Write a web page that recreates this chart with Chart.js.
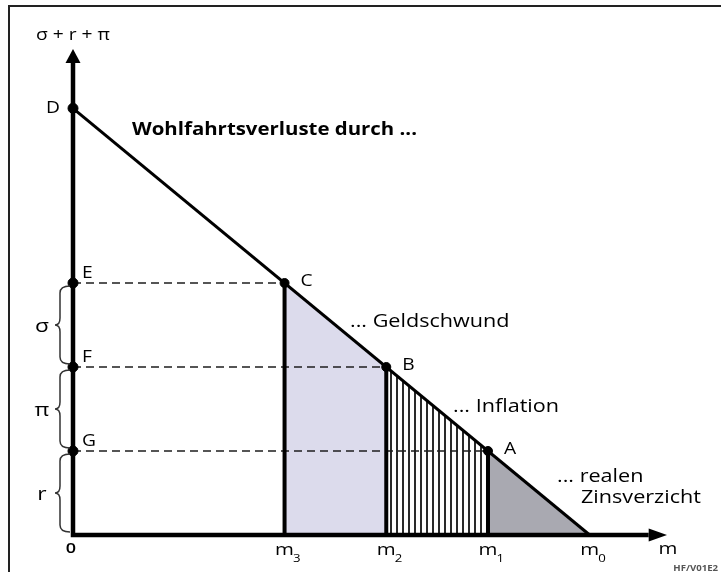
<!DOCTYPE html>
<html>
<head>
<meta charset="utf-8">
<script src="https://cdn.jsdelivr.net/npm/chart.js@4"></script>
<style>
  html, body { margin: 0; padding: 0; background: #fff; }
  canvas { display: block; }
</style>
</head>
<body>
<canvas id="c" width="721" height="572"></canvas>
<script>
// ---- data ----
const dValue = 5.08;                       // D: intercept of the loss line on the vertical axis
const levelLabels = ['G', 'F', 'E'];       // levels on vertical axis
const levelValues = [1, 2, 3];
const curveLabels = ['A', 'B', 'C'];       // points on the line at those levels
const qtyValues = [4.08, 3.08, 2.08];      // m1, m2, m3
const qtySubs = ['1', '2', '3'];
const m0Value = 5.08;                      // m0: intercept on horizontal axis
const componentLabels = ['r', 'π', 'σ'];   // braces between 0-G, G-F, F-E
const lossTexts = [['... realen', 'Zinsverzicht'], ['... Inflation'], ['... Geldschwund']];
const titleText = 'Wohlfahrtsverluste durch ...';
const yAxisLabel = 'σ + r + π';
const xAxisLabel = 'm';
const originLabel = '0';
const creditText = 'HF/V01E2';

// ---- scale extents ----
const xMax = 5.84, yMax = 5.786;
const xAxisEnd = 5.66, yAxisTop = 5.62;

const FONT = '"Open Sans", "Noto Sans", sans-serif';
const STRETCH = 1.2;

const canvas = document.getElementById('c');
const ctx = canvas.getContext('2d');

// hatch pattern
const pc = document.createElement('canvas');
pc.width = 6; pc.height = 4;
const pctx = pc.getContext('2d');
pctx.fillStyle = '#ffffff'; pctx.fillRect(0, 0, 6, 4);
pctx.fillStyle = '#2a2a2a'; pctx.fillRect(0, 0, 2, 4);
const hatch = ctx.createPattern(pc, 'repeat');

// fills: C->B, B->A, A->m0
const fillSegs = [
  { from: {x: qtyValues[2], y: levelValues[2]}, to: {x: qtyValues[1], y: levelValues[1]}, color: '#dcdbec' },
  { from: {x: qtyValues[1], y: levelValues[1]}, to: {x: qtyValues[0], y: levelValues[0]}, color: hatch },
  { from: {x: qtyValues[0], y: levelValues[0]}, to: {x: m0Value, y: 0}, color: '#a9a9b1' }
];

const datasets = [];
fillSegs.forEach(s => datasets.push({
  data: [s.from, s.to], showLine: true, fill: 'origin', backgroundColor: s.color,
  borderWidth: 0, borderColor: 'rgba(0,0,0,0)', pointRadius: 0, order: 10, clip: false
}));
levelValues.forEach((v, i) => datasets.push({
  data: [{x: 0, y: v}, {x: qtyValues[i], y: v}], showLine: true, borderColor: '#1e1e1e',
  borderWidth: 1.6, borderDash: [8, 5], pointRadius: 0, order: 6, clip: false
}));
levelValues.forEach((v, i) => datasets.push({
  data: [{x: qtyValues[i], y: v}, {x: qtyValues[i], y: 0}], showLine: true, borderColor: '#000',
  borderWidth: 4, pointRadius: 0, order: 5, clip: false
}));
datasets.push({
  data: [{x: 0, y: yAxisTop}, {x: 0, y: 0}, {x: xAxisEnd, y: 0}], showLine: true,
  borderColor: '#000', borderWidth: 4.5, borderJoinStyle: 'miter', pointRadius: 0, order: 4, clip: false
});
datasets.push({
  data: [{x: 0, y: dValue}, {x: m0Value, y: 0}], showLine: true, borderColor: '#000',
  borderWidth: 3, pointRadius: 0, order: 3, clip: false
});
datasets.push({
  data: [{x: 0, y: dValue}].concat(levelValues.map(v => ({x: 0, y: v}))),
  showLine: false, pointRadius: 5, backgroundColor: '#000', borderColor: '#000', order: 1, clip: false
});
datasets.push({
  data: levelValues.map((v, i) => ({x: qtyValues[i], y: v})),
  showLine: false, pointRadius: 4.5, backgroundColor: '#000', borderColor: '#000', order: 1, clip: false
});

function txt(c, s, x, y, size, opts = {}) {
  c.save();
  c.font = (opts.weight || '500') + ' ' + size + 'px ' + FONT;
  c.fillStyle = opts.color || '#000';
  c.textBaseline = 'alphabetic';
  const w = c.measureText(s).width * STRETCH;
  let x0 = x;
  if (opts.align === 'center') x0 = x - w / 2;
  else if (opts.align === 'right') x0 = x - w;
  c.translate(x0, y);
  c.scale(STRETCH, 1);
  c.textAlign = 'left';
  c.fillText(s, 0, 0);
  c.restore();
  return w;
}

function brace(c, xr, y1, y2) {
  const xl = xr - 10, xt = xr - 15, r = 7, ym = (y1 + y2) / 2;
  c.beginPath();
  c.moveTo(xr, y1);
  c.quadraticCurveTo(xl, y1, xl, y1 + r);
  c.lineTo(xl, ym - r);
  c.quadraticCurveTo(xl, ym, xt, ym);
  c.quadraticCurveTo(xl, ym, xl, ym + r);
  c.lineTo(xl, y2 - r);
  c.quadraticCurveTo(xl, y2, xr, y2);
  c.stroke();
}

const decor = {
  id: 'decor',
  afterDraw(chart) {
    const c = chart.ctx, xs = chart.scales.x, ys = chart.scales.y, a = chart.chartArea;
    const X = v => xs.getPixelForValue(v), Y = v => ys.getPixelForValue(v);
    const x0 = X(0), y0 = Y(0);
    c.save();
    // frame
    c.strokeStyle = '#222'; c.lineWidth = 2;
    c.beginPath(); c.moveTo(9, 572); c.lineTo(9, 6); c.lineTo(721, 6); c.stroke();
    // arrowheads
    c.fillStyle = '#000';
    c.beginPath(); c.moveTo(x0, a.top); c.lineTo(x0 - 7.5, Y(yAxisTop)); c.lineTo(x0 + 7.5, Y(yAxisTop)); c.closePath(); c.fill();
    c.beginPath(); c.moveTo(a.right, y0); c.lineTo(X(xAxisEnd), y0 - 6.5); c.lineTo(X(xAxisEnd), y0 + 6.5); c.closePath(); c.fill();
    // braces
    c.strokeStyle = '#333'; c.lineWidth = 1.5;
    const bounds = [0].concat(levelValues);
    for (let i = 0; i < componentLabels.length; i++) {
      const yt = Y(bounds[i + 1]) + 3, yb = Y(bounds[i]) - 3;
      brace(c, x0 - 3, yt, yb);
      txt(c, componentLabels[i], 42, (yt + yb) / 2 + 7, 19, {align: 'center'});
    }
    c.restore();

    // axis labels
    txt(c, yAxisLabel, x0, 40, 16, {align: 'center'});
    txt(c, 'D', x0 - 13, Y(dValue) + 5, 16, {align: 'right'});
    txt(c, originLabel, x0 - 2, y0 + 18, 15, {align: 'center', weight: '600'});
    txt(c, xAxisLabel, a.right + 1, y0 + 19, 17, {align: 'center'});
    // level labels
    levelValues.forEach((v, i) => txt(c, levelLabels[i], x0 + 9, Y(v) - 5, 16));
    // curve points
    levelValues.forEach((v, i) => txt(c, curveLabels[i], X(qtyValues[i]) + 16, Y(v) + 3, 16));
    // quantity labels
    const qty = qtyValues.concat([m0Value]), subs = qtySubs.concat(['0']);
    qty.forEach((q, i) => {
      const w = txt(c, 'm', X(q), y0 + 20, 17, {align: 'center'});
      txt(c, subs[i], X(q) + w / 2 - 1, y0 + 27, 11);
    });
    // title and loss labels
    txt(c, titleText, 132, 135, 17, {weight: 'bold'});
    txt(c, lossTexts[2][0], 350, 327, 18);
    txt(c, lossTexts[1][0], 453, 412, 18);
    txt(c, lossTexts[0][0], 557, 482, 18);
    txt(c, lossTexts[0][1], 581, 503, 18);
    txt(c, creditText, 718, 571, 8, {align: 'right', weight: 'bold', color: '#555'});
  }
};

new Chart(ctx, {
  type: 'scatter',
  data: { datasets },
  options: {
    responsive: false,
    animation: false,
    devicePixelRatio: 1,
    events: [],
    layout: { padding: { left: 73, right: 54, top: 49, bottom: 37 } },
    scales: {
      x: { type: 'linear', min: 0, max: xMax, display: false },
      y: { type: 'linear', min: 0, max: yMax, display: false }
    },
    plugins: { legend: { display: false }, tooltip: { enabled: false } }
  },
  plugins: [{ id: 'bg', beforeDraw(ch) { const c = ch.ctx; c.save(); c.fillStyle = '#fff'; c.fillRect(0, 0, ch.width, ch.height); c.restore(); } }, decor]
});
</script>
</body>
</html>
